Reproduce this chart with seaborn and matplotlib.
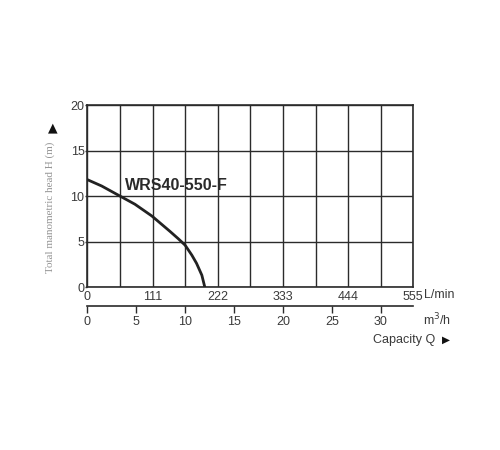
import matplotlib
matplotlib.use("Agg")
import matplotlib.pyplot as plt
import numpy as np
import pandas as pd
import seaborn as sns

# curve (flow in L/min, head in m)
flow_lmin = [0, 24.5, 55.5, 81, 110, 141, 155, 166.5, 178, 186, 195, 200]
head_m = [11.8, 11.1, 10.0, 9.1, 7.8, 6.1, 5.3, 4.6, 3.5, 2.6, 1.3, 0.0]
model = "WRS40-550-F"

lmin_ticks = [0, 111, 222, 333, 444, 555]
m3h_ticks = [0, 5, 10, 15, 20, 25, 30]
head_ticks = [0, 5, 10, 15, 20]

sns.set_style("white")
plt.rcParams['font.family'] = ['Liberation Sans', 'DejaVu Sans']

dark = "#2b2b2b"
txt = "#3a3a3a"

fig = plt.figure(figsize=(5, 4.5), dpi=100)
ax = fig.add_axes([0.1746, 0.3622, 0.652, 0.4044])

df = pd.DataFrame({"Q": flow_lmin, "H": head_m})
sns.lineplot(data=df, x="Q", y="H", ax=ax, color="#222222", linewidth=2.0,
             zorder=5)

ax.set_xlim(0, 555)
ax.set_ylim(0, 20)
ax.set_xticks(np.arange(0, 556, 55.5), minor=True)
ax.set_xticks(lmin_ticks)
ax.set_xticklabels([str(t) for t in lmin_ticks])
ax.set_yticks(head_ticks)
ax.grid(True, which="both", axis="x", color=dark, linewidth=1.0)
ax.grid(True, axis="y", color=dark, linewidth=1.0)
ax.tick_params(axis="x", which="both", length=0, pad=3, labelsize=9,
               labelcolor=txt)
ax.tick_params(axis="y", length=1.5, width=1, color=dark, pad=0.5,
               labelsize=9, labelcolor=txt, left=True)
for s in ax.spines.values():
    s.set_visible(True)
    s.set_color(dark)
    s.set_linewidth(1.2)
ax.set_xlabel("")
ax.set_ylabel("")

# second scale in m3/h
sec = ax.secondary_xaxis(-0.104, functions=(lambda q: q * 0.06,
                                             lambda m: m / 0.06))
sec.set_xticks(m3h_ticks)
sec.tick_params(axis="x", direction="out", length=5, width=1, color=dark,
                labelsize=9, labelcolor=txt, pad=2)
sec.spines["bottom"].set_color(dark)
sec.spines["bottom"].set_linewidth(1.2)

ax.text(64, 11.2, model, fontsize=11.5, fontweight="bold", color="#2a2a2a",
        va="center", ha="left", zorder=6)

fig.text(424 / 500, 1 - 295 / 450, "L/min", fontsize=9, color=txt,
         ha="left", va="center")
fig.text(423 / 500, 1 - 320 / 450, "m$^3$/h", fontsize=9, color=txt,
         ha="left", va="center")
fig.text(373 / 500, 1 - 340 / 450, "Capacity Q", fontsize=9, color=txt,
         ha="left", va="center")
fig.text(446 / 500, 1 - 340 / 450, "\u25B6", fontsize=7.5, color="#111111",
         ha="center", va="center", family=["DejaVu Sans"])

fig.text(50 / 500, 1 - 207 / 450, "Total manometric head H (m)",
         rotation=90, fontsize=8, color="#959595", ha="center", va="center",
         family=["Liberation Serif", "DejaVu Serif"])
fig.text(52.5 / 500, 1 - 128 / 450, "\u25B2", fontsize=9, color="#111111",
         ha="center", va="center", family=["DejaVu Sans"])

fig.savefig("out.png", dpi=100, facecolor="white")
